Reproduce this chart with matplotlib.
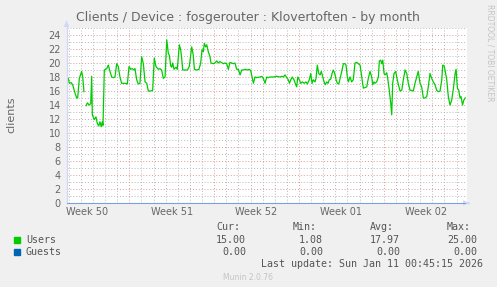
import numpy as np
import matplotlib
matplotlib.use("Agg")
import matplotlib.pyplot as plt

# time axis: days since Mon 2025-12-08 00:00 (start of week 50)
x_min = 1.82
x_max = 34.82

week_labels = ["Week 50", "Week 51", "Week 52", "Week 01", "Week 02"]
week_starts = [7, 14, 21, 28, 35]

users_days = [
    1.84, 1.97, 2.05, 2.19, 2.33, 2.52, 2.66, 2.74, 2.88, 3.07, 3.16, 3.26, 3.35,
    3.43, 3.54, 3.70, 3.82, 3.90, 3.95, 4.11, 4.25, 4.36, 4.48, 4.58, 4.69, 4.77, 4.83,
    4.94, 5.14, 5.27, 5.41, 5.55, 5.68, 5.82, 5.96, 6.09, 6.23, 6.37, 6.65, 6.84,
    6.98, 7.12, 7.25, 7.39, 7.47, 7.61, 7.74, 7.88, 8.02, 8.16, 8.30, 8.44, 8.57,
    8.77, 8.93, 9.06, 9.20, 9.39, 9.53, 9.67, 9.81, 9.95, 10.09, 10.22, 10.30, 10.42,
    10.50, 10.58, 10.69, 10.85, 10.96, 11.13, 11.24, 11.32, 11.41, 11.60, 11.79,
    11.95, 12.15, 12.28, 12.37, 12.56, 12.75, 12.89, 13.00, 13.11, 13.19, 13.31,
    13.39, 13.52, 13.66, 13.74, 13.93, 14.07, 14.21, 14.34, 14.47, 14.76, 14.90,
    15.04, 15.17, 15.31, 15.45, 15.58, 15.72, 15.86, 16.00, 16.14, 16.28, 16.41,
    16.55, 16.74, 16.90, 17.02, 17.13, 17.24, 17.37, 17.51, 17.79, 17.93, 18.06,
    18.20, 18.34, 18.47, 18.61, 18.88, 19.16, 19.43, 19.57, 19.71, 19.85, 19.99,
    20.12, 20.21, 20.32, 20.45, 20.59, 20.73, 20.81, 20.90, 21.03, 21.14, 21.28,
    21.42, 21.58, 21.69, 21.85, 21.97, 22.08, 22.18, 22.32, 22.41, 22.51, 22.63,
    22.74, 22.84, 22.96, 23.07, 23.17, 23.29, 23.40, 23.50, 23.62, 23.73, 23.83,
    23.95, 24.06, 24.17, 24.28, 24.39, 24.53, 24.66, 24.80, 24.88, 24.99, 25.07,
    25.21, 25.35, 25.48, 25.62, 25.76, 25.90, 26.04, 26.18, 26.31, 26.45, 26.59,
    26.72, 26.86, 27.00, 27.08, 27.19, 27.27, 27.41, 27.55, 27.63, 27.74, 27.83,
    27.91, 28.02, 28.10, 28.24, 28.32, 28.45, 28.57, 28.65, 28.73, 28.84, 28.98,
    29.06, 29.20, 29.34, 29.48, 29.61, 29.75, 29.89, 30.02, 30.16, 30.30, 30.43,
    30.57, 30.71, 30.84, 30.99, 31.12, 31.26, 31.40, 31.54, 31.67, 31.81, 31.95,
    32.08, 32.22, 32.36, 32.50, 32.64, 32.78, 32.86, 32.97, 33.05, 33.19, 33.32,
    33.46, 33.60, 33.74, 33.88, 33.96, 34.07, 34.18, 34.29, 34.37, 34.49, 34.60, 34.71,
]
users = [
    17.9, 17.8, 17.1, 17.2, 16.9, 15.7, 15.0, 15.0, 17.8, 18.8, 18.0, 15.9, np.nan,
    13.9, 14.3, 14.0, 14.2, 18.1, 12.6, 11.9, 12.3, 11.4, 11.0, 11.6, 10.9, 11.6, 11.1,
    19.0, 19.2, 19.7, 18.8, 18.0, 17.9, 18.0, 19.9, 19.5, 18.0, 17.1, 17.1, 17.0,
    19.5, 19.1, 19.2, 19.0, 19.2, 17.6, 17.0, 17.1, 20.9, 19.9, 17.3, 17.1, 16.0,
    16.0, 16.1, 20.7, 19.5, 19.1, 19.2, 19.0, 17.8, 18.0, 23.3, 21.4, 21.1, 19.6,
    19.4, 20.0, 19.1, 19.4, 19.1, 22.6, 21.9, 20.7, 19.0, 19.0, 19.0,
    19.5, 22.3, 21.1, 19.1, 19.0, 19.1, 20.0, 21.9, 21.6, 22.8, 22.3,
    22.6, 21.6, 20.9, 20.0, 19.9, 20.0, 20.3, 20.0, 20.2, 19.9, 20.0,
    19.9, 19.1, 20.1, 20.0, 19.9, 20.0, 19.1, 19.1, 18.3, 19.0, 19.0,
    19.1, 19.0, 19.1, 18.9, 18.0, 17.1, 18.0, 17.9, 18.0, 18.1, 17.8,
    17.1, 18.0, 17.9, 18.0, 18.0, 18.1, 18.0, 18.1, 18.0, 18.3, 17.9,
    17.6, 17.1, 17.6, 18.0, 17.6, 16.9, 16.6, 18.0, 17.6, 17.1, 17.3,
    17.1, 17.3, 17.0, 17.6, 18.5, 17.1, 17.6, 17.3, 17.8, 19.7, 18.5,
    18.3, 18.8, 18.0, 17.3, 16.9, 17.3, 17.1, 17.6, 17.7, 18.5, 19.0,
    18.5, 17.6, 17.1, 17.0, 17.8, 18.8, 19.9, 19.9, 19.7, 18.0, 17.3,
    18.0, 17.3, 17.6, 20.0, 20.1, 19.9, 19.7, 18.0, 16.4, 16.5, 16.6,
    17.8, 18.8, 18.0, 16.9, 17.3, 17.1, 17.3, 18.0, 20.3, 20.4, 19.9,
    20.4, 18.5, 18.3, 18.6, 17.8, 16.1, 14.2, 12.6, 17.1, 18.5, 18.8,
    18.0, 16.9, 16.0, 16.1, 17.6, 19.0, 18.5, 17.1, 16.1, 16.1, 16.0,
    17.1, 18.0, 18.8, 17.1, 16.6, 15.0, 15.0, 15.2, 16.6, 18.5, 17.8,
    17.3, 16.9, 16.1, 15.9, 16.0, 17.6, 19.7, 19.6, 19.0, 17.6, 15.2,
    14.0, 14.7, 16.4, 18.5, 19.1, 16.4, 16.1, 15.0, 15.2, 14.0, 14.7, 15.0,
]
guests_days = [x_min, 34.71]
guests = [0.0, 0.0]

legend_names = ["Users", "Guests"]
legend_colors = ["#00CC00", "#0066B3"]
stat_heads = ["Cur:", "Min:", "Avg:", "Max:"]
stats = [
    ["15.00", "1.08", "17.97", "25.00"],
    ["0.00", "0.00", "0.00", "0.00"],
]

W, H = 497, 287
fig = plt.figure(figsize=(W / 100, H / 100), dpi=100)
fig.patch.set_facecolor("#F0F0F0")

def fx(px):
    return px / W

def fy(py):
    return 1 - py / H

ax = fig.add_axes([fx(66.5), fy(203), 400 / W, 175 / H])
ax.set_facecolor("white")
ax.set_xlim(x_min, x_max)
ax.set_ylim(0, 25)
for s in ax.spines.values():
    s.set_visible(False)

# grid: minor gray, major red (dotted like rrdtool)
dots = (0, (1, 2))
for d in range(2, 35):
    if d not in week_starts:
        ax.axvline(d, color="#b8b8b8", lw=0.7, ls=dots, zorder=1)
for v in range(1, 26):
    if v % 2:
        ax.axhline(v, color="#b8b8b8", lw=0.7, ls=dots, zorder=1)
for d in week_starts:
    ax.axvline(d, color="#e09a9a", lw=0.7, ls=dots, zorder=1)
for v in range(2, 25, 2):
    ax.axhline(v, color="#e09a9a", lw=0.7, ls=dots, zorder=1)

ax.plot(users_days, users, color="#00CC00", lw=0.9, zorder=3)

# axes with arrows
ax.plot([x_min, x_max + 0.2], [0, 0], color="#CFD6F8", lw=0.9, clip_on=False, zorder=4)
ax.plot([x_min, x_min], [0, 25.6], color="#CFD6F8", lw=0.9, clip_on=False, zorder=4)
ax.annotate("", xy=(1.013, 0), xytext=(0.999, 0), xycoords="axes fraction",
            arrowprops=dict(arrowstyle="-|>", color="#CFD6F8", lw=0.9, mutation_scale=7))
ax.annotate("", xy=(0, 1.04), xytext=(0, 1.02), xycoords="axes fraction",
            arrowprops=dict(arrowstyle="-|>", color="#CFD6F8", lw=0.9, mutation_scale=7))
ax.plot(guests_days, guests, color="#0066B3", lw=0.7, alpha=0.45, zorder=5, clip_on=False)

ax.set_yticks(range(0, 25, 2))
ax.set_xticks([w - 3.5 for w in week_starts])
ax.set_xticklabels(week_labels)
ax.tick_params(length=0, labelsize=7, labelcolor="#666666")
ax.tick_params(axis="y", pad=4)
ax.tick_params(axis="x", pad=3)

fig.text(fx(248), fy(17), "Clients / Device : fosgerouter : Klovertoften - by month",
         ha="center", va="center", fontsize=9, color="#666666")
fig.text(fx(11), fy(115), "clients", rotation=90, ha="center", va="center",
         fontsize=8, color="#666666")
fig.text(fx(490), fy(4), "RRDTOOL / TOBI OETIKER", rotation=-90, ha="center", va="top",
         fontsize=5.5, color="#c4c4c4")

mono = dict(family="DejaVu Sans Mono", fontsize=7.2, color="#555555")
stat_x = [246, 323, 400, 477]
for xh, head in zip(stat_x, stat_heads):
    fig.text(fx(xh - 6), fy(227), head, ha="right", va="center", **mono)
for i, (name, col) in enumerate(zip(legend_names, legend_colors)):
    yy = 240 + i * 12.3
    fig.patches.append(plt.Rectangle((fx(14), fy(yy + 3)), 6 / W, 6 / H,
                                     transform=fig.transFigure, color=col))
    fig.text(fx(26), fy(yy), name, ha="left", va="center", **mono)
    for xs, val in zip(stat_x, stats[i]):
        fig.text(fx(xs), fy(yy), val, ha="right", va="center", **mono)
fig.text(fx(483), fy(264), "Last update: Sun Jan 11 00:45:15 2026", ha="right", va="center", **mono)
fig.text(fx(248), fy(277), "Munin 2.0.76", ha="center", va="center", fontsize=5.5, color="#c4c4c4")

fig.savefig("out.png", dpi=100, facecolor=fig.get_facecolor())
